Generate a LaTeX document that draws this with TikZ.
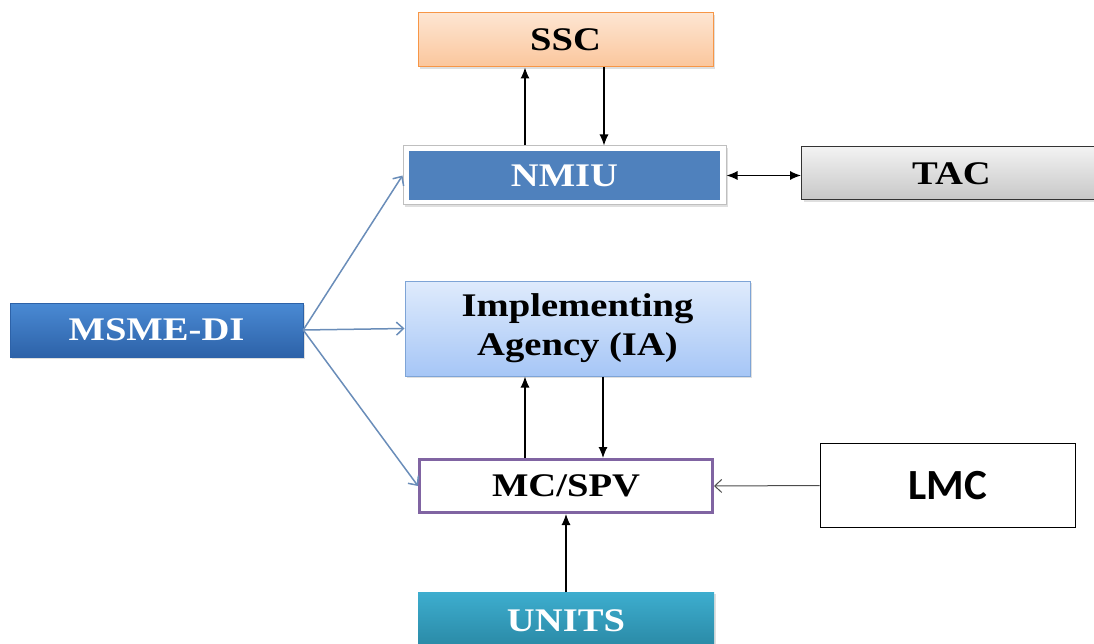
\documentclass[tikz,border=0pt]{standalone}
\usepackage{fontspec}
\newfontfamily\boxfont{Liberation Serif}[FakeStretch=1.17]
\newfontfamily\lmcfont{Carlito}
\usepackage{tikz}
\usetikzlibrary{positioning, calc, arrows.meta, shadows}
\definecolor{sscfill}{HTML}{FBC69C}
\definecolor{sscline}{HTML}{F79646}
\definecolor{nmiublue}{HTML}{4F81BD}
\definecolor{msmetop}{HTML}{4A8AD4}
\definecolor{msmebottom}{HTML}{2D62A8}
\definecolor{iatop}{HTML}{DFEBFC}
\definecolor{iabottom}{HTML}{A6C6F6}
\definecolor{ialine}{HTML}{7EA4D6}
\definecolor{msmeline}{HTML}{6A8DB9}
\definecolor{mcline}{HTML}{8064A2}
\definecolor{unitsfill}{HTML}{33A9CC}
\tikzstyle{Arrow} = [
    line width = 1.1pt, black,
    -{Latex[length=11pt, width=9pt]}
]
\tikzstyle{Link} = [
    line width = 1.5pt, msmeline,
    -{Straight Barb[length=7pt, width=13pt]}
]

\begin{document}
\begin{tikzpicture}[
x = 1pt, y = -1pt,
box/.style={
    rectangle,
    inner sep = 0pt,
    font = \boxfont\bfseries\fontsize{33}{38}\selectfont,
    align = center
    },
shade/.style={
    drop shadow={shadow xshift=2pt, shadow yshift=-2pt, opacity=0.25}
    }
]
\useasboundingbox (0,0) rectangle (1094,644);

\node [box, shade, draw = sscline, line width = 1pt, top color = sscfill!45, bottom color = sscfill,
    minimum width = 295pt, minimum height = 54pt] (ssc) at (565.5,40) {SSC};
\node [box, shade, draw = black!25, fill = white, line width = 1pt,
    minimum width = 323pt, minimum height = 59pt] (frame) at (564.5,175.5) {};
\node [box, fill = nmiublue, text = white, minimum width = 311pt, minimum height = 49pt]
    (nmiu) at (frame.center) {NMIU};
\node [box, shade, draw = black!80, line width = 1pt, top color = black!5, bottom color = black!22,
    minimum width = 300pt, minimum height = 53pt, anchor = west] (tac) at (801,173.5) {TAC};
\node [box, shade, draw = msmebottom, top color = msmetop, bottom color = msmebottom,
    text = white, minimum width = 293pt, minimum height = 54pt] (msme) at (156.5,330) {MSME-DI};
\node [box, shade, draw = ialine, line width = 1pt, top color = iatop, bottom color = iabottom,
    minimum width = 345pt, minimum height = 95pt] (ia) at (577.5,328.5) {Implementing\\[1pt]Agency (IA)};
\node [box, draw = mcline, line width = 3pt, fill = white,
    minimum width = 293pt, minimum height = 53pt] (mc) at (566,486) {MC/SPV};
\node [box, draw = black, line width = 1.8pt, fill = white, font = \lmcfont\bfseries\fontsize{43}{48}\selectfont,
    minimum width = 255pt, minimum height = 84pt] (lmc) at (948,485.5) {LMC};
\node [box, shade, top color = unitsfill!95!white, bottom color = unitsfill!80!black, text = white,
    minimum width = 296pt, minimum height = 58pt, anchor = north] (units) at (566,592) {\raisebox{-6pt}{UNITS}};

\draw[Arrow] ([xshift=-39.5pt]frame.north) -- ([xshift=-40.5pt]ssc.south);
\draw[Arrow] ([xshift=38.5pt]ssc.south) -- ([xshift=39.5pt]frame.north);
\draw[Arrow, {Latex[length=11pt, width=9pt]}-{Latex[length=11pt, width=9pt]}] (frame.east) -- (frame.east -| tac.west);

\draw[Link] (msme.east) -- (frame.west);
\draw[Link] (msme.east) -- (ia.west);
\draw[Link] (msme.east) -- (mc.west);

\draw[Arrow] ([xshift=-41pt]mc.north) -- ([xshift=-52.5pt]ia.south);
\draw[Arrow] ([xshift=25.5pt]ia.south) -- ([xshift=37pt]mc.north);
\draw[Link, black!70, line width = 1pt] (lmc.west) -- (mc.east);
\draw[Arrow] (units.north) -- (mc.south);

\end{tikzpicture}
\end{document}
